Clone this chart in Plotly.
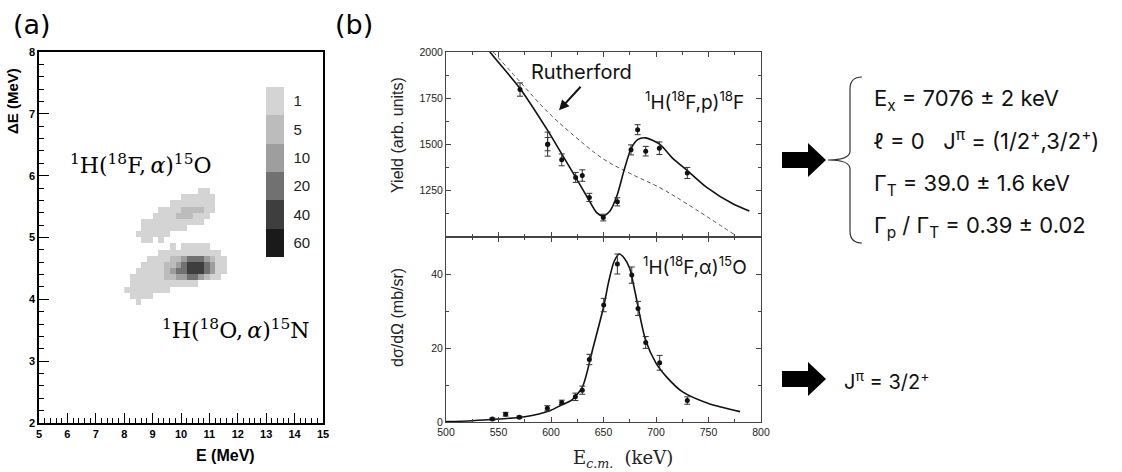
import numpy as np
import plotly.graph_objects as go

W, H = 1122, 472


def px(x):
    return x / W


def py(y):
    return 1 - y / H


# ---------------- panel (a): ΔE-E identification histogram ----------------
hist_e = [8.1, 8.3, 8.5, 8.7, 8.9, 9.1, 9.3, 9.5, 9.7, 9.9,
          10.1, 10.3, 10.5, 10.7, 10.9, 11.1, 11.3, 11.5, 11.7, 11.9]
hist_de = [5.75, 5.65, 5.55, 5.45, 5.35, 5.25, 5.15, 5.05, 4.95, 4.85,
           4.75, 4.65, 4.55, 4.45, 4.35, 4.25, 4.15, 4.05, 3.95]
hist_counts = [
    [0, 0, 0, 0, 0, 0, 0, 0, 0, 0, 0, 0, 0, 1, 1, 0, 0, 0, 0, 0],
    [0, 0, 0, 0, 0, 0, 0, 0, 0, 0, 1, 1, 2, 1, 2, 1, 0, 0, 0, 0],
    [0, 0, 0, 0, 0, 0, 0, 0, 1, 2, 2, 3, 4, 3, 3, 1, 0, 0, 0, 0],
    [0, 0, 0, 0, 0, 0, 1, 2, 3, 4, 5, 6, 5, 6, 3, 1, 0, 0, 0, 0],
    [0, 0, 0, 0, 0, 1, 2, 3, 4, 5, 6, 5, 4, 3, 2, 0, 0, 0, 0, 0],
    [0, 0, 0, 1, 2, 3, 4, 4, 4, 3, 3, 2, 1, 1, 0, 0, 0, 0, 0, 0],
    [0, 0, 0, 1, 2, 3, 3, 2, 2, 1, 1, 0, 0, 0, 0, 0, 0, 0, 0, 0],
    [0, 0, 1, 2, 2, 2, 1, 1, 0, 0, 0, 0, 0, 0, 0, 0, 0, 0, 0, 0],
    [0, 0, 0, 1, 1, 0, 1, 0, 0, 0, 0, 0, 0, 0, 0, 0, 0, 0, 0, 0],
    [0, 0, 0, 0, 0, 0, 0, 0, 1, 0, 1, 1, 1, 1, 1, 0, 0, 0, 0, 0],
    [0, 0, 0, 0, 0, 0, 1, 1, 2, 2, 3, 4, 4, 4, 3, 2, 1, 0, 0, 0],
    [0, 0, 0, 0, 1, 1, 2, 3, 5, 8, 14, 20, 24, 20, 14, 7, 3, 1, 0, 0],
    [0, 0, 0, 1, 2, 3, 4, 5, 9, 18, 32, 42, 48, 45, 34, 14, 4, 1, 0, 0],
    [0, 0, 1, 2, 3, 3, 4, 6, 10, 20, 34, 45, 52, 47, 32, 12, 3, 1, 0, 0],
    [0, 1, 2, 2, 3, 4, 4, 5, 7, 10, 14, 20, 22, 16, 8, 3, 1, 0, 0, 0],
    [0, 1, 2, 3, 3, 3, 3, 3, 2, 2, 2, 1, 1, 0, 0, 0, 0, 0, 0, 0],
    [1, 1, 2, 2, 2, 1, 1, 1, 0, 0, 0, 0, 0, 0, 0, 0, 0, 0, 0, 0],
    [0, 1, 1, 1, 1, 0, 0, 0, 0, 0, 0, 0, 0, 0, 0, 0, 0, 0, 0, 0],
    [0, 0, 1, 0, 0, 0, 0, 0, 0, 0, 0, 0, 0, 0, 0, 0, 0, 0, 0, 0],
]
count_levels = [1, 5, 10, 20, 40, 60]
level_labels = ["1", "5", "10", "20", "40", "60"]
level_colors = ["#d4d4d4", "#bcbcbc", "#9e9e9e", "#717171", "#3e3e3e", "#1a1a1a"]

# ---------------- panel (b) top: elastic yield ----------------
yield_e = [570.5, 596.8, 596.8, 610.2, 623.5, 629.8, 636.5, 649.8, 663.2,
           676.2, 682.5, 690.2, 703.2, 729.8]
yield_val = [1797, 1502, 1502, 1417, 1322, 1332, 1214, 1105, 1190,
             1471, 1580, 1464, 1480, 1346]
yield_err = [36, 65, 36, 32, 27, 31, 22, 18, 22, 27, 27, 26, 34, 30]

yield_fit_e = [535, 541.9, 570.5, 596.8, 610.2, 623.5, 636.5, 643.5, 649.8,
               656.2, 663.2, 669.5, 676.2, 682.5, 690.2, 703.2, 716.5, 729.8,
               748.3, 773.6, 788.9]
yield_fit_val = [2060, 2000, 1803, 1576, 1449, 1322, 1196, 1132, 1114,
                 1141, 1230, 1359, 1477, 1526, 1536, 1503, 1422, 1359,
                 1268, 1178, 1141]

ruth_e = [545, 570.5, 596.8, 623.5, 649.8, 676.2, 703.2, 729.8, 776.8]
ruth_val = [2000, 1839, 1676, 1540, 1422, 1341, 1268, 1178, 1005]

# ---------------- panel (b) bottom: (p,alpha) cross section ----------------
xs_e = [544.1, 556.8, 569.8, 596.5, 610.2, 623.2, 629.8, 636.5, 650.2,
        663.2, 676.9, 682.9, 690.2, 703.5, 729.8]
xs_val = [0.8, 2.1, 1.3, 3.7, 5.3, 6.8, 8.6, 16.9, 31.6,
          42.7, 39.7, 30.7, 21.5, 16.0, 5.8]
xs_err = [0.3, 0.5, 0.3, 0.7, 0.6, 1.0, 1.1, 1.4, 1.8,
          2.7, 2.2, 1.9, 1.6, 2.0, 1.0]

xs_fit_e = [500, 525, 550, 575, 600, 610, 620, 630, 640, 650, 655, 660,
            665, 670, 675, 680, 690, 700, 710, 725, 750, 780]
xs_fit_val = [0.1, 0.35, 0.8, 1.4, 3.2, 4.6, 6.0, 9.5, 20.0, 31.0, 38.0, 43.3,
              45.4, 44.2, 41.5, 35.2, 22.2, 15.9, 12.2, 8.2, 5.0, 2.8]

SANS = "Liberation Sans"
SERIF = "DejaVu Serif"
TXT = "Inter, Liberation Sans"

fig = go.Figure()

# ---- heatmap (a); colour bar drawn with level "1" at the top as in the original
counts = np.array(hist_counts)
n = len(level_colors)
lev = np.digitize(counts, count_levels).astype(float)
zpos = n + 1 - lev          # level 1 -> top of the colour bar
zpos[lev == 0] = np.nan
cscale = []
for j in range(n):
    c = level_colors[n - 1 - j]
    cscale.append([j / n, c])
    cscale.append([(j + 1) / n, c])

fig.add_trace(go.Heatmap(
    x=hist_e, y=hist_de, z=zpos, xaxis="x3", yaxis="y3",
    colorscale=cscale, zmin=0.5, zmax=n + 0.5, hoverinfo="skip",
    colorbar=dict(
        tickvals=list(range(1, n + 1)), ticktext=level_labels[::-1],
        thickness=18, thicknessmode="pixels", len=170, lenmode="pixels",
        x=px(266), xanchor="left", y=py(87), yanchor="top",
        xpad=0, ypad=0, outlinewidth=0, ticks="outside", ticklen=7,
        tickcolor="rgba(0,0,0,0)",
        tickfont=dict(family="Liberation Sans Narrow, Liberation Sans", size=15, color="#222"),
    ),
))

# ---- (b) top
fig.add_trace(go.Scatter(
    x=ruth_e, y=ruth_val, xaxis="x2", yaxis="y2", mode="lines",
    line=dict(color="#555", width=1, dash="4px,3px", shape="spline"),
    showlegend=False, hoverinfo="skip"))
fig.add_trace(go.Scatter(
    x=yield_fit_e, y=yield_fit_val, xaxis="x2", yaxis="y2", mode="lines",
    line=dict(color="#111", width=1.6, shape="spline", smoothing=0.7),
    showlegend=False, hoverinfo="skip"))
fig.add_trace(go.Scatter(
    x=yield_e, y=yield_val, xaxis="x2", yaxis="y2", mode="markers",
    marker=dict(color="#111", size=5),
    error_y=dict(type="data", array=yield_err, color="#333", thickness=1, width=3),
    showlegend=False))

# ---- (b) bottom
fig.add_trace(go.Scatter(
    x=xs_fit_e, y=xs_fit_val, xaxis="x", yaxis="y", mode="lines",
    line=dict(color="#111", width=1.6, shape="spline", smoothing=0.7),
    showlegend=False, hoverinfo="skip"))
fig.add_trace(go.Scatter(
    x=xs_e, y=xs_val, xaxis="x", yaxis="y", mode="markers",
    marker=dict(color="#111", size=5),
    error_y=dict(type="data", array=xs_err, color="#333", thickness=1, width=3),
    showlegend=False))

tickfont_b = dict(family=SANS, size=10.5, color="#222")
common_b = dict(showline=True, linecolor="#444", linewidth=1, mirror="ticks",
                ticks="inside", ticklen=5, tickcolor="#444", showgrid=False,
                zeroline=False)
tickfont_a = dict(family=SANS, size=11, color="black", weight="bold")
common_a = dict(showline=True, linecolor="black", linewidth=1.5, mirror=True,
                ticks="inside", ticklen=10, tickcolor="black", tickwidth=1,
                showgrid=False, zeroline=False, tickfont=tickfont_a,
                minor=dict(ticks="inside", ticklen=5, tickcolor="black", dtick=0.2))

fig.update_layout(
    width=W, height=H,
    margin=dict(l=0, r=0, t=0, b=0, pad=0, autoexpand=False),
    paper_bgcolor="white", plot_bgcolor="white", showlegend=False,
    xaxis=dict(domain=[px(446), px(761)], anchor="y", range=[500, 800],
               tick0=500, dtick=50, tickfont=tickfont_b,
               minor=dict(ticks="inside", ticklen=3, tickcolor="#444", dtick=25),
               **common_b),
    yaxis=dict(domain=[py(422), py(237)], anchor="x", range=[0, 50],
               tickvals=[0, 20, 40], tickfont=tickfont_b,
               minor=dict(ticks="inside", ticklen=3, tickcolor="#444", dtick=10),
               **common_b),
    xaxis2=dict(domain=[px(446), px(761)], anchor="y2", range=[500, 800],
                matches="x", tick0=500, dtick=50, showticklabels=False,
                minor=dict(ticks="inside", ticklen=3, tickcolor="#444", dtick=25),
                **common_b),
    yaxis2=dict(domain=[py(237), py(52)], anchor="x2", range=[1000, 2000],
                tickvals=[1250, 1500, 1750, 2000], tickfont=tickfont_b,
                minor=dict(ticks="inside", ticklen=3, tickcolor="#444",
                           tick0=1000, dtick=125),
                **common_b),
    xaxis3=dict(domain=[px(39), px(323)], anchor="y3", range=[5, 15],
                tick0=5, dtick=1, **common_a),
    yaxis3=dict(domain=[py(423), py(52)], anchor="x3", range=[2, 8],
                tick0=2, dtick=1, **common_a),
)

ann = []


def A(x, y, text, font, **kw):
    d = dict(x=px(x), y=py(y), xref="paper", yref="paper", text=text,
             showarrow=False, font=font, xanchor="center", yanchor="middle")
    d.update(kw)
    ann.append(d)


A(32, 25, "(a)", dict(family="DejaVu Sans", size=27, color="black"))
A(354, 25, "(b)", dict(family="DejaVu Sans", size=27, color="black"))

# panel (a) texts
A(12, 101, "ΔE (MeV)", dict(family=SANS, size=15, color="black", weight="bold"), textangle=-90)
A(225, 455, "E (MeV)", dict(family=SANS, size=16, color="black", weight="bold"))
A(141, 164, "<sup>1</sup>H(<sup>18</sup>F,\u2009<i>α</i>)<sup>15</sup>O",
  dict(family=SERIF, size=22, color="black"))
A(236, 329, "<sup>1</sup>H(<sup>18</sup>O,\u2009<i>α</i>)<sup>15</sup>N",
  dict(family=SERIF, size=22, color="black"))

# panel (b) texts
A(397, 135, "Yield (arb. units)", dict(family=SANS, size=16, color="#222"), textangle=-90)
A(397, 318, "dσ/dΩ (mb/sr)", dict(family=SANS, size=16, color="#222"), textangle=-90)
A(623, 459, "E<sub><i>c.m.</i></sub>  (keV)", dict(family=SERIF, size=18, color="#222"))
A(581, 72, "Rutherford", dict(family=TXT, size=20, color="#111"))
A(694, 101, "<sup>1</sup>H(<sup>18</sup>F,p)<sup>18</sup>F", dict(family=TXT, size=19, color="#111"))
A(695, 266, "<sup>1</sup>H(<sup>18</sup>F,α)<sup>15</sup>O", dict(family=TXT, size=19, color="#111"))

# right-hand summary
rt = dict(family=TXT, size=22, color="#111")
A(872, 100, "E<sub>x</sub> = 7076 ± 2 keV", rt, xanchor="left")
A(872, 139, "ℓ = 0\u00a0\u00a0\u00a0J<sup>π</sup> = (1/2<sup>+</sup>,3/2<sup>+</sup>)", rt, xanchor="left")
A(872, 185, "Γ<sub>T</sub> = 39.0 ± 1.6 keV", rt, xanchor="left")
A(872, 227, "Γ<sub>p</sub> / Γ<sub>T</sub> = 0.39 ± 0.02", rt, xanchor="left")
A(842, 380, "J<sup>π</sup> = 3/2<sup>+</sup>", dict(family=TXT, size=20, color="#111"), xanchor="left")

# Rutherford arrow
ann.append(dict(x=607.6, y=1685, xref="x2", yref="y2", ax=23, ay=-25,
                axref="pixel", ayref="pixel", text="", showarrow=True,
                arrowhead=2, arrowsize=1, arrowwidth=2, arrowcolor="#111"))

fig.update_layout(annotations=ann)


def P(x, y):
    return f"{px(x):.5f},{py(y):.5f}"


def arrow_path(cy, x0=782, xh=808, xt=826, sh=8, hh=17):
    pts = [(x0, cy - sh), (xh, cy - sh), (xh, cy - hh), (xt, cy),
           (xh, cy + hh), (xh, cy + sh), (x0, cy + sh)]
    return "M " + " L ".join(P(x, y) for x, y in pts) + " Z"


shapes = []
for cy in (160, 379):
    shapes.append(dict(type="path", xref="paper", yref="paper",
                       path=arrow_path(cy), fillcolor="black",
                       line=dict(color="black", width=0)))

brace = (f"M {P(862, 77)} Q {P(850, 77)} {P(850, 89)} L {P(850, 151)} "
         f"Q {P(850, 160)} {P(828, 160)} Q {P(850, 160)} {P(850, 169)} "
         f"L {P(850, 231)} Q {P(850, 243)} {P(862, 243)}")
shapes.append(dict(type="path", xref="paper", yref="paper", path=brace,
                   line=dict(color="#333", width=1.2)))
fig.update_layout(shapes=shapes)

# remove the browser's default 8px page margin so the figure fills the window
fig.write_html("out.html",
               config={"displayModeBar": False},
               post_script="document.body.style.margin='0';document.body.style.overflow='hidden';")
